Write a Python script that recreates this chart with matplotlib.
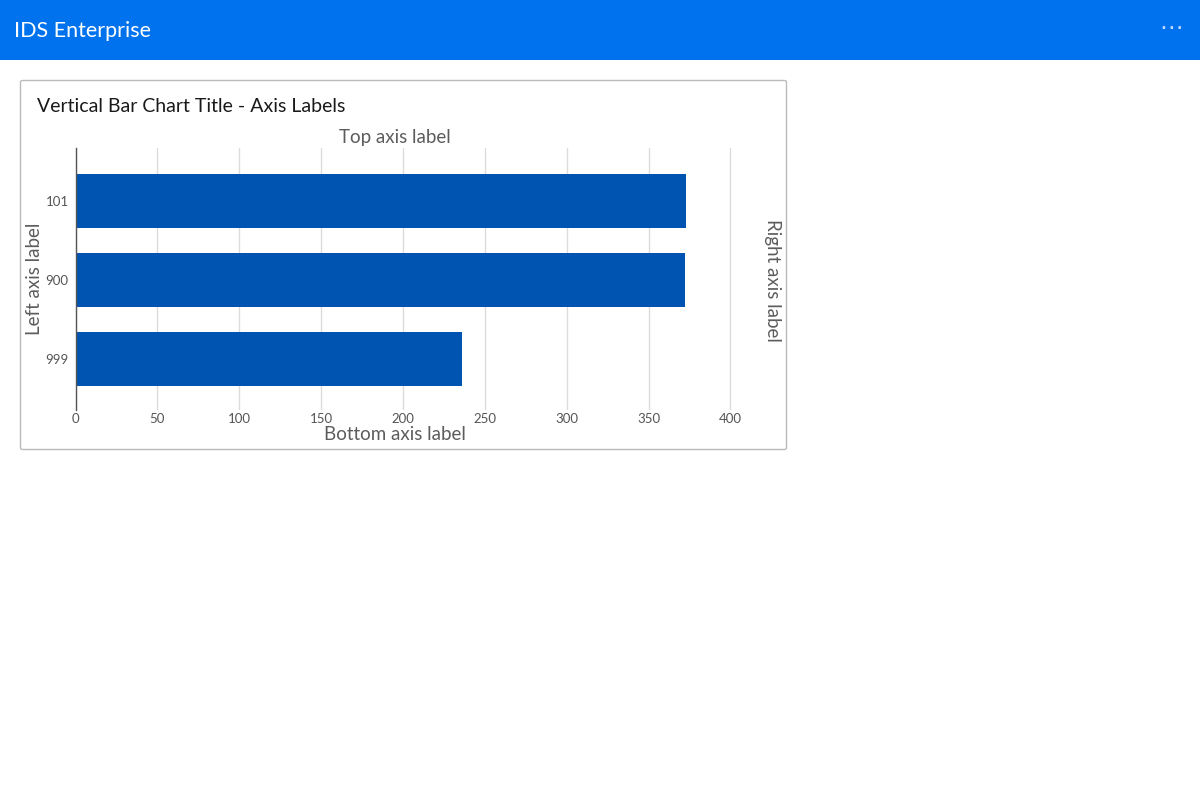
import matplotlib.pyplot as plt
from matplotlib.patches import Rectangle, FancyBboxPatch

plt.rcParams['font.family'] = ['Lato', 'DejaVu Sans']

categories = ['101', '900', '999']
values = [373, 372, 236]
xTicks = [0, 50, 100, 150, 200, 250, 300, 350, 400]

W, H = 1200, 800
fig = plt.figure(figsize=(12, 8), dpi=100)

def fx(px):
    return px / W
def fy(py):
    return 1 - py / H

# header bar
fig.patches.append(Rectangle((0, fy(60)), 1, 60 / H, transform=fig.transFigure,
                             facecolor='#0072ed', edgecolor='none', zorder=0))
fig.text(fx(14), fy(31), 'IDS Enterprise', color='white', fontsize=15.5, va='center')
fig.text(fx(1171), fy(28), '\u22ef', color='#bcd8fb', fontsize=17, va='center', ha='center',
         family=['DejaVu Sans'])

# card
fig.patches.append(FancyBboxPatch((fx(20.5), fy(449.5)), (786.5 - 20.5) / W, (449.5 - 80.5) / H,
                                  boxstyle='round,pad=0,rounding_size=0.002',
                                  transform=fig.transFigure, facecolor='white',
                                  edgecolor='#bbbbbb', linewidth=1, zorder=0))
fig.text(fx(37), fy(106), 'Vertical Bar Chart Title - Axis Labels', color='#1a1a1a',
         fontsize=14, va='center')

# plot area
left, right, top, bottom = 75.5, 763.2, 148, 410
ax = fig.add_axes([fx(left), fy(bottom), (right - left) / W, (bottom - top) / H], zorder=2)
ax.patch.set_alpha(0)
ypos = list(range(len(categories)))
ax.barh(ypos, values, height=0.684, color='#0054b1', zorder=2)
ax.set_xlim(0, 420)
ax.set_ylim(2.65, -0.67)
ax.set_yticks(ypos)
ax.set_yticklabels(categories)
ax.set_xticks(xTicks)
ax.tick_params(length=0, labelsize=9.5, labelcolor='#555555')
ax.tick_params(axis='x', pad=2)
ax.tick_params(axis='y', pad=5)
ax.grid(axis='x', color='#dcdcdc', linewidth=1, zorder=0)
for s in ['top', 'right', 'bottom']:
    ax.spines[s].set_visible(False)
ax.spines['left'].set_color('#555555')
ax.spines['left'].set_linewidth(1)
ax.set_axisbelow(True)

labelColor = '#5c5c5c'
fig.text(fx(395), fy(137), 'Top axis label', color=labelColor, fontsize=13.5, ha='center', va='center')
fig.text(fx(395), fy(435), 'Bottom axis label', color=labelColor, fontsize=13.5, ha='center', va='center')
fig.text(fx(34), fy(279), 'Left axis label', color=labelColor, fontsize=13.5, ha='center',
         va='center', rotation=90)
fig.text(fx(772), fy(280), 'Right axis label', color=labelColor, fontsize=13.5, ha='center',
         va='center', rotation=270)

fig.savefig('out.png', dpi=100, facecolor='white')
